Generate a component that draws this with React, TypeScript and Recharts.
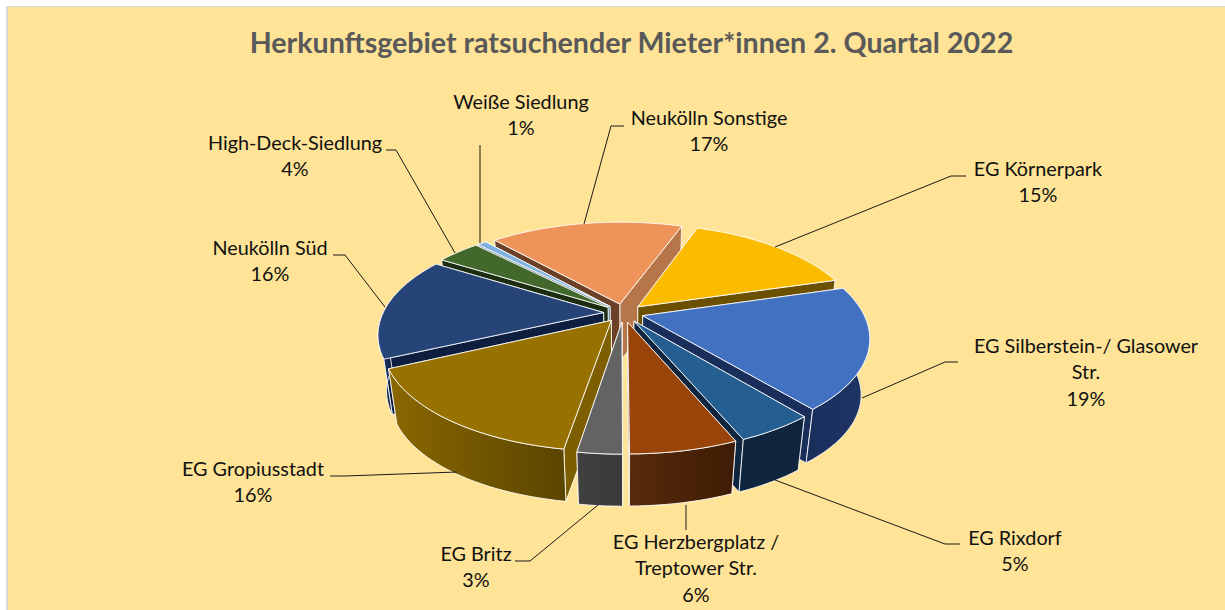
import React from "react";
import { PieChart, Pie } from "recharts";

const TITLE = "Herkunftsgebiet ratsuchender Mieter*innen 2. Quartal 2022";

// Split at the rear of the pie: each half runs from back to front, so later slices paint over earlier ones.
const rightNames = ["EG Körnerpark", "EG Silberstein-/ Glasower Str.", "EG Rixdorf", "EG Herzbergplatz / Treptower Str.", "EG Britz"];
const rightValues = [15.0, 18.6, 4.6, 6.3, 2.6];
const leftNames = ["Neukölln Sonstige", "Weiße Siedlung", "High-Deck-Siedlung", "Neukölln Süd", "EG Gropiusstadt"];
const leftValues = [17.0, 0.8, 3.8, 15.8, 15.5];

const toRows = (names: string[], values: number[]) => names.map((name, i) => ({ name, value: values[i] }));
const sum = (a: number[]) => a.reduce((x, y) => x + y, 0);
const total = sum(rightValues) + sum(leftValues);

const REAR_ANGLE = 70.4;
const CX = 623.5, CY = 313, R = 220.5, EXPLODE = 20;
const TILT = 0.46, PERSP = 0.0009, DEPTH = 57, SHRINK = 0.965;

type Look = { top: string; a: string; b: string; w1: string; w2: string };
const LOOK: Record<string, Look> = {
  "Neukölln Sonstige": { top: "#EE945A", a: "#B7764A", b: "#6B4027", w1: "#8a5532", w2: "#6b4027" },
  "EG Körnerpark": { top: "#FBBC00", a: "#6B5000", b: "#6B5000", w1: "#6B5000", w2: "#6B5000" },
  "EG Silberstein-/ Glasower Str.": { top: "#4371C1", a: "#1A2E5C", b: "#1A2E5C", w1: "#1A2E5C", w2: "#1F3563" },
  "EG Rixdorf": { top: "#255E91", a: "#10263F", b: "#10263F", w1: "#0F263E", w2: "#0F263E" },
  "EG Herzbergplatz / Treptower Str.": { top: "#99450A", a: "#4A2106", b: "#4A2106", w1: "#582A0C", w2: "#3E1C04" },
  "EG Britz": { top: "#636363", a: "#3C3C3C", b: "#3C3C3C", w1: "#414141", w2: "#383838" },
  "Weiße Siedlung": { top: "#7FB2E0", a: "#3F5F80", b: "#3F5F80", w1: "#3F5F80", w2: "#3F5F80" },
  "High-Deck-Siedlung": { top: "#43682B", a: "#1B2C10", b: "#1B2C10", w1: "#1B2C10", w2: "#1B2C10" },
  "Neukölln Süd": { top: "#264478", a: "#0E1E3F", b: "#0E1E3F", w1: "#264478", w2: "#0E1E3F" },
  "EG Gropiusstadt": { top: "#987200", a: "#0E1E3F", b: "#7D5E00", w1: "#8A6700", w2: "#5A4500" },
};

type Callout = { lines: string[]; x: number; y: number; leader: string };
const CALLOUTS: Record<string, Callout> = {
  "Weiße Siedlung": { lines: ["Weiße Siedlung", "1%"], x: 521, y: 109, leader: "480,145 480,243" },
  "Neukölln Sonstige": { lines: ["Neukölln Sonstige", "17%"], x: 709, y: 125, leader: "624,126 611,126 584,224" },
  "EG Körnerpark": { lines: ["EG Körnerpark", "15%"], x: 1038, y: 176, leader: "966,176 951,176 775,247" },
  "EG Silberstein-/ Glasower Str.": { lines: ["EG Silberstein-/ Glasower", "Str.", "19%"], x: 1086, y: 353, leader: "958,362 945,362 862,398" },
  "EG Rixdorf": { lines: ["EG Rixdorf", "5%"], x: 1015, y: 545, leader: "960,544 945,544 775,480" },
  "EG Herzbergplatz / Treptower Str.": { lines: ["EG Herzbergplatz /", "Treptower Str.", "6%"], x: 696, y: 549, leader: "686,530 686,505" },
  "EG Britz": { lines: ["EG Britz", "3%"], x: 476, y: 561, leader: "515,561 530,561 598,505" },
  "EG Gropiusstadt": { lines: ["EG Gropiusstadt", "16%"], x: 253, y: 476, leader: "330,476 345,476 457,472" },
  "Neukölln Süd": { lines: ["Neukölln Süd", "16%"], x: 270, y: 255, leader: "333,255 345,255 385,307" },
  "High-Deck-Siedlung": { lines: ["High-Deck-Siedlung", "4%"], x: 295, y: 150, leader: "386,150 396,150 455,253" },
};

const rad = (d: number) => (d * Math.PI) / 180;

function project(cx: number, cy: number, r: number, deg: number, mid: number, low: boolean): [number, number] {
  const X = r * Math.cos(rad(deg)) + EXPLODE * Math.cos(rad(mid));
  const Y = -(r * Math.sin(rad(deg)) + EXPLODE * Math.sin(rad(mid)));
  const s = 1 / (1 - PERSP * Y);
  const f = low ? SHRINK : 1;
  return [cx + X * s * f, cy + Y * TILT * s * f + (low ? DEPTH : 0)];
}
const toPath = (pts: [number, number][]) => "M" + pts.map((p) => p[0].toFixed(1) + "," + p[1].toFixed(1)).join("L") + "Z";

function Slice3D(props: any) {
  const { cx, cy, outerRadius, startAngle, endAngle, midAngle, name, index } = props;
  const look = LOOK[name];
  const mid = midAngle ?? (startAngle + endAngle) / 2;
  const steps = Math.max(4, Math.ceil(Math.abs(endAngle - startAngle) / 2));
  const angles = Array.from({ length: steps + 1 }, (_, i) => startAngle + ((endAngle - startAngle) * i) / steps);
  // Only the front half of the rim faces the viewer.
  const frontAngles = angles.filter((a) => Math.sin(rad(a)) < 0.02);
  const rimTop = angles.map((a) => project(cx, cy, outerRadius, a, mid, false));
  const frontTop = frontAngles.map((a) => project(cx, cy, outerRadius, a, mid, false));
  const frontLow = frontAngles.map((a) => project(cx, cy, outerRadius, a, mid, true));
  const edgeLow = (a: number) => project(cx, cy, outerRadius, a, mid, true);
  const apexTop = project(cx, cy, 0, mid, mid, false);
  const apexLow = project(cx, cy, 0, mid, mid, true);
  const last = angles.length - 1;
  const id = "wall-" + name.replace(/[^A-Za-z]/g, "") + index;
  const line = { stroke: "#FFFFFF", strokeWidth: 1, strokeLinejoin: "round" as const, strokeOpacity: 0.85 };
  return (
    <g>
      <defs>
        <linearGradient id={id} x1="0" y1="0" x2="1" y2="0">
          <stop offset="0" stopColor={look.w1} />
          <stop offset="1" stopColor={look.w2} />
        </linearGradient>
      </defs>
      <path d={toPath([apexTop, rimTop[0], edgeLow(angles[0]), apexLow])} fill={look.a} {...line} />
      <path d={toPath([apexTop, rimTop[last], edgeLow(angles[last]), apexLow])} fill={look.b} {...line} />
      {frontAngles.length > 1 && <path d={toPath([...frontTop, ...frontLow.slice().reverse()])} fill={`url(#${id})`} {...line} />}
      <path d={toPath([apexTop, ...rimTop])} fill={look.top} {...line} />
    </g>
  );
}

function Callout(props: any) {
  const c = CALLOUTS[props.name];
  return (
    <g>
      <polyline points={c.leader} fill="none" stroke="#1a1a1a" strokeWidth={1} />
      {c.lines.map((t, i) => (
        <text key={t} x={c.x} y={c.y + i * 26.3} textAnchor="middle" fontFamily="Lato" fontSize={19.8} fill="#111111">
          {t}
        </text>
      ))}
    </g>
  );
}

export default function App() {
  return (
    <div style={{ position: "absolute", left: 0, top: 0, width: 1225, height: 610, background: "#FFFFFF", overflow: "hidden" }}>
      <div style={{ position: "absolute", left: 6, top: 6, width: 1219, height: 604, background: "#D9D9D9" }} />
      <div style={{ position: "absolute", left: 8, top: 7, width: 1217, height: 603, background: "#FFE396" }} />
      <div style={{ position: "absolute", left: 0, width: 1263, top: 25, textAlign: "center", fontFamily: "Lato", fontWeight: 700, fontSize: 28.6, color: "#595959", whiteSpace: "nowrap" }}>
        {TITLE}
      </div>
      <div style={{ position: "absolute", left: 0, top: 0 }}>
        <PieChart width={1225} height={610} margin={{ top: 0, right: 0, bottom: 0, left: 0 }}>
          <Pie
            data={toRows(leftNames, leftValues)}
            dataKey="value"
            nameKey="name"
            cx={CX}
            cy={CY}
            outerRadius={R}
            startAngle={REAR_ANGLE}
            endAngle={REAR_ANGLE + (360 * sum(leftValues)) / total}
            shape={Slice3D}
            label={Callout}
            labelLine={false}
            isAnimationActive={false}
          />
          <Pie
            data={toRows(rightNames, rightValues)}
            dataKey="value"
            nameKey="name"
            cx={CX}
            cy={CY}
            outerRadius={R}
            startAngle={REAR_ANGLE}
            endAngle={REAR_ANGLE - (360 * sum(rightValues)) / total}
            shape={Slice3D}
            label={Callout}
            labelLine={false}
            isAnimationActive={false}
          />
        </PieChart>
      </div>
    </div>
  );
}
